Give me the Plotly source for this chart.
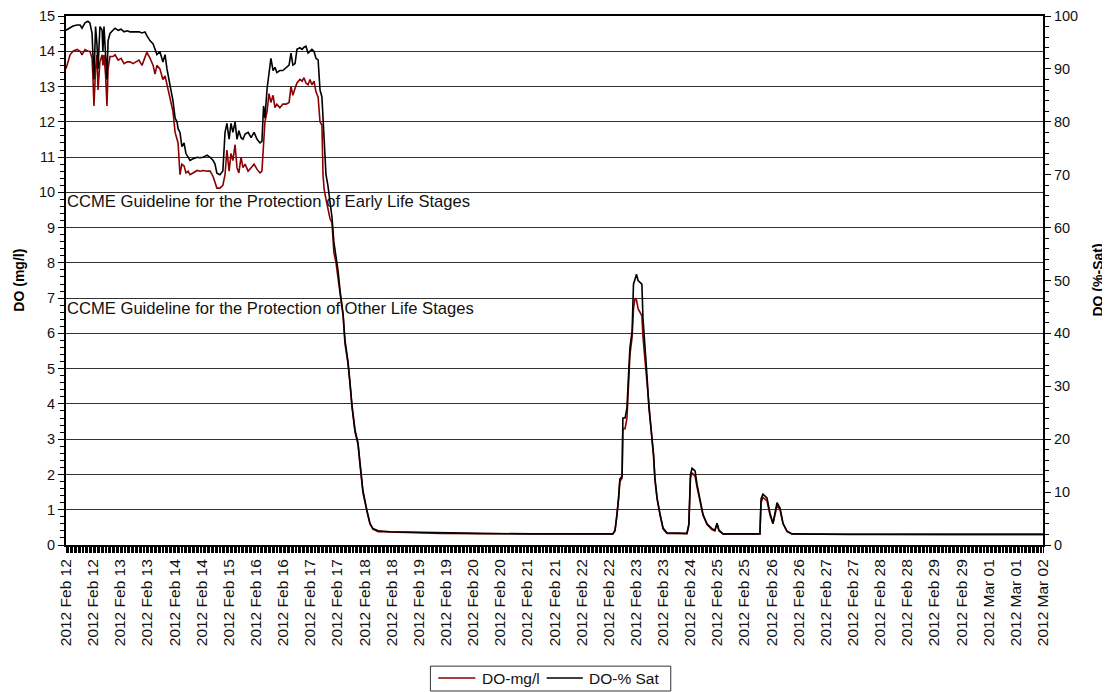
import plotly.graph_objects as go

# Category tick labels (one every ~13 h of logger data)
tick_labels = [
    "2012 Feb 12", "2012 Feb 12", "2012 Feb 13", "2012 Feb 13", "2012 Feb 14", "2012 Feb 14",
    "2012 Feb 15", "2012 Feb 16", "2012 Feb 16", "2012 Feb 17", "2012 Feb 17", "2012 Feb 18",
    "2012 Feb 18", "2012 Feb 19", "2012 Feb 19", "2012 Feb 20", "2012 Feb 20", "2012 Feb 21",
    "2012 Feb 21", "2012 Feb 22", "2012 Feb 22", "2012 Feb 23", "2012 Feb 23", "2012 Feb 24",
    "2012 Feb 25", "2012 Feb 25", "2012 Feb 26", "2012 Feb 26", "2012 Feb 27", "2012 Feb 27",
    "2012 Feb 28", "2012 Feb 28", "2012 Feb 29", "2012 Feb 29", "2012 Mar 01", "2012 Mar 01",
    "2012 Mar 02",
]
tick_pos = list(range(len(tick_labels)))

# Sample positions (in units of tick-label intervals)
t = [
    0.00, 0.15, 0.26, 0.41, 0.52, 0.59, 0.70, 0.81, 0.88, 0.96, 0.99, 1.03, 1.09, 1.14, 1.18,
    1.22, 1.25, 1.33, 1.36, 1.40, 1.46, 1.51, 1.55, 1.62, 1.73, 1.81, 1.92, 2.03, 2.14, 2.25,
    2.36, 2.47, 2.58, 2.69, 2.80, 2.91, 2.98, 3.10, 3.21, 3.28, 3.35, 3.46, 3.57, 3.65, 3.72,
    3.83, 3.94, 4.02, 4.09, 4.13, 4.20, 4.27, 4.35, 4.42, 4.50, 4.57, 4.68, 4.83, 4.94, 5.05,
    5.20, 5.31, 5.42, 5.49, 5.56, 5.67, 5.78, 5.86, 5.93, 6.01, 6.08, 6.15, 6.23, 6.30, 6.37,
    6.45, 6.52, 6.60, 6.71, 6.82, 6.93, 7.04, 7.15, 7.22, 7.28, 7.33, 7.41, 7.48, 7.55, 7.63,
    7.70, 7.77, 7.88, 7.99, 8.11, 8.22, 8.29, 8.36, 8.44, 8.51, 8.62, 8.70, 8.77, 8.84, 8.92,
    8.99, 9.06, 9.14, 9.21, 9.29, 9.36, 9.43, 9.47, 9.51, 9.58, 9.65, 9.73, 9.80, 9.87, 9.95,
    10.02, 10.10, 10.21, 10.28, 10.39, 10.46, 10.54, 10.65, 10.76, 10.83, 10.94, 11.09, 11.20,
    11.31, 11.50, 11.94, 12.68, 13.78, 15.25, 17.10, 18.94, 19.86, 20.15, 20.23, 20.30, 20.36,
    20.41, 20.49, 20.52, 20.60, 20.67, 20.73, 20.78, 20.86, 20.91, 20.97, 21.02, 21.08, 21.15,
    21.22, 21.26, 21.33, 21.41, 21.48, 21.59, 21.65, 21.70, 21.78, 21.89, 22.00, 22.14, 22.88,
    22.95, 23.01, 23.07, 23.18, 23.25, 23.36, 23.47, 23.62, 23.80, 23.91, 23.99, 24.06, 24.21,
    25.57, 25.61, 25.68, 25.83, 25.94, 26.05, 26.20, 26.31, 26.42, 26.57, 26.75, 28.89, 32.57,
    36.00,
]

# DO in mg/l (left axis)
do_mgl = [
    13.5, 13.9, 14.0, 14.05, 14.0, 13.9, 14.05, 14.0, 14.0, 13.8, 13.3, 12.45, 13.5, 13.9, 12.9,
    13.4, 13.7, 13.9, 13.6, 13.9, 13.3, 12.45, 13.5, 13.85, 13.85, 13.9, 13.75, 13.8, 13.65, 13.7,
    13.7, 13.65, 13.7, 13.75, 13.6, 13.85, 13.97, 13.8, 13.6, 13.35, 13.6, 13.5, 13.2, 13.3, 13.05,
    12.6, 12.3, 11.7, 11.5, 11.4, 10.5, 10.8, 10.75, 10.55, 10.6, 10.5, 10.55, 10.62, 10.6, 10.62,
    10.6, 10.6, 10.45, 10.3, 10.12, 10.12, 10.2, 10.5, 11.2, 10.6, 11.1, 10.9, 11.35, 10.7, 10.55,
    11.0, 10.7, 10.8, 10.6, 10.7, 10.8, 10.65, 10.55, 10.6, 11.4, 12.0, 12.3, 12.8, 12.55, 12.75,
    12.4, 12.5, 12.4, 12.5, 12.5, 12.55, 13.0, 12.75, 12.95, 13.1, 13.2, 13.15, 13.25, 13.1, 13.05,
    13.2, 13.05, 13.15, 12.85, 12.7, 12.0, 11.9, 10.5, 10.1, 9.8, 9.5, 9.25, 9.15, 8.3, 8.0,
    7.6, 7.1, 6.5, 5.7, 5.15, 4.6, 3.9, 3.2, 2.85, 2.3, 1.5, 0.95, 0.6,
    0.45, 0.38, 0.37, 0.35, 0.33, 0.32, 0.31, 0.31, 0.31, 0.31, 0.4, 0.8, 1.3,
    1.8, 1.9, 3.3, 3.3, 3.6, 4.6, 5.4, 5.9, 6.7, 7.0, 6.95, 6.7, 6.6,
    6.5, 5.9, 5.3, 4.6, 3.8, 3.0, 2.5, 1.85, 1.3, 0.85, 0.46, 0.33, 0.32,
    0.55, 1.9, 2.05, 1.95, 1.65, 1.28, 0.85, 0.58, 0.44, 0.4, 0.6, 0.4, 0.31,
    0.31, 1.2, 1.35, 1.25, 0.85, 0.6, 1.12, 1.0, 0.6, 0.38, 0.31, 0.3, 0.3,
    0.3,
]

# DO in % saturation (right axis)
do_sat = [
    97.3, 97.7, 98.1, 98.3, 98.3, 97.7, 98.7, 99.0, 98.7, 96.7, 90.7, 88.0, 98.0, 94.7, 90.0,
    96.7, 98.0, 97.3, 93.3, 98.0, 92.0, 88.0, 95.3, 96.7, 97.3, 97.7, 97.3, 97.5, 97.0, 97.2,
    97.0, 97.0, 97.1, 97.0, 96.8, 97.0, 96.3, 95.3, 94.7, 93.7, 92.7, 93.3, 91.3, 92.7, 90.0,
    87.0, 84.0, 80.7, 80.0, 78.7, 78.0, 75.3, 76.0, 74.0, 73.3, 72.7, 73.0, 73.3, 73.2, 73.3,
    73.7, 73.3, 72.7, 72.0, 70.3, 70.0, 70.7, 78.0, 79.7, 76.7, 79.7, 78.0, 80.0, 76.7, 78.3,
    77.0, 76.7, 77.7, 78.0, 77.0, 78.0, 76.7, 76.0, 76.3, 83.0, 80.7, 86.3, 89.7, 92.0, 89.7,
    90.3, 89.3, 89.7, 89.7, 90.3, 90.7, 93.0, 90.7, 91.0, 93.7, 94.0, 93.7, 94.1, 94.3, 93.0,
    93.3, 93.7, 93.3, 92.0, 91.7, 86.0, 84.7, 80.0, 76.3, 70.0, 68.0, 65.0, 62.0, 57.3, 54.7,
    52.0, 48.0, 43.7, 38.7, 34.7, 31.0, 26.3, 21.7, 19.3, 15.7, 10.3, 6.5, 4.1,
    3.1, 2.7, 2.5, 2.4, 2.3, 2.2, 2.1, 2.1, 2.1, 2.1, 2.8, 5.5, 8.9,
    12.5, 13.0, 24.0, 24.0, 25.9, 32.3, 37.3, 40.5, 49.3, 50.3, 51.2, 50.0, 49.7,
    49.3, 42.9, 36.7, 31.9, 25.9, 20.2, 17.2, 12.7, 8.9, 5.8, 3.2, 2.3, 2.2,
    4.0, 13.3, 14.5, 14.0, 11.5, 8.9, 5.8, 4.0, 3.1, 2.8, 4.1, 2.8, 2.1,
    2.1, 8.7, 9.6, 8.9, 6.0, 4.1, 8.0, 7.0, 4.1, 2.6, 2.1, 2.0, 2.0,
    2.0,
]

series_names = ["DO-mg/l", "DO-% Sat"]

guideline_text = [
    ("CCME Guideline for the Protection of Early Life Stages", 9.75),
    ("CCME Guideline for the Protection of Other Life Stages", 6.72),
]

FONT = "Liberation Sans, Arial, sans-serif"
RED = "#8B0000"
LW = 1.6

fig = go.Figure()
fig.add_trace(go.Scatter(x=t, y=do_mgl, mode="lines", name=series_names[0],
                         line=dict(color=RED, width=LW), yaxis="y", showlegend=False))
fig.add_trace(go.Scatter(x=t, y=do_sat, mode="lines", name=series_names[1],
                         line=dict(color="black", width=LW), yaxis="y2", showlegend=False))

annotations = []
for txt, yv in guideline_text:
    annotations.append(dict(x=0, y=yv, xref="x", yref="y", text=txt, showarrow=False,
                            xanchor="left", yanchor="middle", xshift=-1,
                            font=dict(family=FONT, size=16.6, color="#111")))
annotations.append(dict(x=-0.049, y=0.5, xref="paper", yref="paper", text="<b>DO (mg/l)</b>",
                        showarrow=False, textangle=-90, xanchor="center", yanchor="middle",
                        font=dict(family=FONT, size=14, color="black")))
annotations.append(dict(x=1.0553, y=0.5, xref="paper", yref="paper", text="<b>DO (%-Sat)</b>",
                        showarrow=False, textangle=-90, xanchor="center", yanchor="middle",
                        font=dict(family=FONT, size=14, color="black")))

# Custom legend (box, line samples and labels), placed below the plot in paper coordinates
shapes = [
    dict(type="rect", xref="paper", yref="paper", x0=0.373, x1=0.619, y0=-0.276, y1=-0.229,
         line=dict(color="#333", width=1), fillcolor="white", layer="above"),
    dict(type="line", xref="paper", yref="paper", x0=0.381, x1=0.419, y0=-0.2515, y1=-0.2515,
         line=dict(color=RED, width=LW)),
    dict(type="line", xref="paper", yref="paper", x0=0.492, x1=0.529, y0=-0.2515, y1=-0.2515,
         line=dict(color="black", width=LW)),
]
annotations.append(dict(x=0.424, y=-0.2515, xref="paper", yref="paper", text=series_names[0],
                        showarrow=False, xanchor="left", yanchor="middle",
                        font=dict(family=FONT, size=15.5, color="#111")))
annotations.append(dict(x=0.533, y=-0.2515, xref="paper", yref="paper", text=series_names[1],
                        showarrow=False, xanchor="left", yanchor="middle",
                        font=dict(family=FONT, size=15.5, color="#111")))

# The page body adds an 8 px offset, so the figure is sized to fit the window minus it
fig.update_layout(
    width=1102, height=685,
    margin=dict(l=58, r=67, t=8, b=148, autoexpand=False),
    paper_bgcolor="white", plot_bgcolor="white",
    font=dict(family=FONT, size=15, color="#111"),
    showlegend=False,
    annotations=annotations,
    shapes=shapes,
    xaxis=dict(
        range=[0, 36], tickmode="array", tickvals=tick_pos, ticktext=tick_labels,
        tickangle=-90, ticks="outside", ticklen=6, tickcolor="black", tickwidth=1,
        showgrid=False, zeroline=False, showline=True, linecolor="black", linewidth=2,
        mirror=True, automargin=False,
        minor=dict(ticks="outside", dtick=0.05, ticklen=6, tickcolor="black", tickwidth=1,
                   showgrid=False),
        tickfont=dict(family=FONT, size=15.5, color="#111"),
    ),
    yaxis=dict(
        range=[0, 15], dtick=1, ticks="outside", ticklen=6, tickcolor="black",
        showgrid=True, gridcolor="#333", gridwidth=1, zeroline=False,
        showline=True, linecolor="black", linewidth=2, automargin=False,
        ticklabeloverflow="allow",
        minor=dict(ticks="outside", dtick=0.2, ticklen=4, tickcolor="black", showgrid=False),
        tickfont=dict(family=FONT, size=14.5, color="#111"),
    ),
    yaxis2=dict(
        range=[0, 100], dtick=10, overlaying="y", side="right", ticks="outside", ticklen=6,
        tickcolor="black", showgrid=False, zeroline=False, showline=True, linecolor="black",
        linewidth=2, automargin=False, ticklabeloverflow="allow",
        minor=dict(ticks="outside", dtick=2, ticklen=4, tickcolor="black", showgrid=False),
        tickfont=dict(family=FONT, size=14.5, color="#111"),
    ),
)

fig.write_html("out.html")
